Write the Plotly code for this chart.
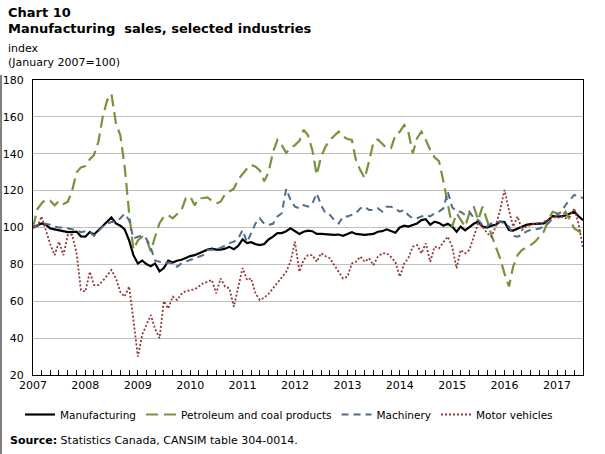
import pandas as pd
import plotly.graph_objects as go

# monthly index values, January 2007 to July 2017 (January 2007=100)
months = pd.date_range('2007-01-01', periods=127, freq='MS')

manufacturing = [
    100, 101, 102.2, 101.5, 99.5, 99, 98.5, 98, 97.5, 97.5, 97.8, 95.2,
    95, 97.5, 96.2, 98.5, 101, 103.5, 105.5, 102.2, 101, 99, 93, 85,
    80.5, 82, 80.2, 79, 80.5, 76.2, 78, 82, 81, 82, 82.5, 83.5,
    84.5, 85, 86, 87, 88, 88.5, 88, 88, 88.5, 89.5, 88.2, 90,
    93.5, 91.5, 92, 91, 90.5, 91, 93.5, 95, 97, 97, 98, 99.5,
    98, 96.5, 97.7, 98.3, 98, 96.5, 96.5, 96.3, 96.5, 96, 96.2, 95.5,
    96.5, 97.5, 96.5, 96.2, 96, 96.3, 96.5, 97.7, 98, 99, 98, 97.2,
    100, 101, 100.5, 101.5, 102.2, 104, 104.5, 101.5, 103.2, 102.5, 101, 102,
    100.5, 97.7, 100.5, 98.5, 100.3, 102, 103.2, 100.5, 100, 101, 101.5, 103.2,
    103, 98.7, 98.3, 99.3, 100.5, 101.4, 101.8, 102, 102.2, 102.2, 104, 106.2,
    106, 106, 106.5, 107.5, 108.6, 106, 104,
]
petroleum = [
    100, 110, 113, 115.3, 114.5, 112, 114.5, 112.8, 114, 120, 130, 132.6,
    133.3, 137, 139.3, 146.5, 160, 169, 172.4, 156.5, 150, 133, 108, 88,
    93, 95, 94, 87, 95, 102.3, 105.9, 106.8, 105, 107, 109.5, 115.8,
    116.8, 112, 115.8, 116, 116.3, 114.5, 113, 114, 118, 119.5, 121, 126,
    129, 132, 134, 133, 131, 125, 130, 141, 147.5, 144.7, 140.5, 143,
    144.7, 147, 153, 150, 142, 128.5, 138.4, 143.8, 147.5, 150, 152, 149.3,
    148, 147.5, 136.6, 131, 126.7, 136, 146, 147.8, 145.6, 143, 143, 150,
    152, 155.6, 152, 140.2, 148.4, 152, 147.5, 142, 138, 136, 125, 112,
    100.5, 107.7, 104, 100.5, 107.7, 111.3, 104, 111.3, 104, 96, 89.6, 83.3,
    75, 68, 78.8, 85, 87.8, 89, 90.5, 92.3, 95, 97.8, 104, 108.5,
    107.7, 106, 108.6, 104, 99.5, 98, 97,
]
machinery = [
    100, 101, 102.5, 102, 101.5, 100.5, 100, 100, 99.5, 99, 98.5, 97.5,
    98, 97.5, 95.5, 98, 100.5, 102, 103, 103, 105, 107.5, 104, 94,
    95, 95.5, 94, 89, 82, 81.5, 80.2, 81, 80.5, 78.7, 80.5, 81.5,
    82.4, 83, 84.2, 85, 87.8, 88, 88, 89, 90.5, 91.5, 92.3, 94,
    98.6, 92, 96.8, 102.2, 105, 102, 101.4, 102, 106, 107.7, 121, 115,
    111.3, 110.4, 112.2, 111.3, 113, 118.5, 112.2, 107.7, 106.8, 104, 102.2, 106,
    106, 106.8, 107.7, 110.4, 111.3, 109.5, 109.5, 110.4, 108.6, 111.3, 111.3, 110,
    108.6, 109.5, 106.8, 105, 105, 106, 106.8, 106, 107.7, 108.6, 110.4, 119.5,
    111, 108.6, 108.6, 106.8, 108.6, 105, 104, 101.4, 100.5, 102.2, 102.5, 103.2,
    102.2, 100.5, 95.5, 95, 96, 97.8, 98.7, 99, 99.5, 100.5, 102.2, 105,
    106.8, 108.6, 112.2, 115, 117.7, 116.8, 116,
]
motor_vehicles = [
    100, 100.5, 106, 97.8, 91, 85, 92.3, 85, 96, 96, 86, 66,
    65.2, 76, 68.8, 68.8, 71, 74, 77, 72.4, 65, 62.5, 68, 50,
    30, 42, 47, 52.5, 45, 40, 60, 56, 62.5, 60.7, 64, 65.5,
    66, 66.5, 68, 69.7, 70.5, 71.5, 64.3, 72.4, 67.9, 67, 57, 68,
    78, 71.5, 72.4, 64.3, 60.7, 62, 64, 67, 70, 72.4, 76, 81.4,
    92.3, 76, 82.4, 85, 85, 81.4, 86, 84.5, 83.3, 79.6, 76, 72.4,
    73.3, 80.5, 81.4, 84.2, 81.4, 83.3, 79.6, 84.2, 86, 86, 84, 81.4,
    73.3, 80.5, 83.3, 89.6, 90.5, 86, 91.4, 81.4, 89.6, 88.7, 92, 95,
    89.6, 77.8, 87.8, 86, 87.8, 95, 102.2, 100.5, 97, 95, 100.5, 109.5,
    120.3, 109.5, 100.5, 106, 98.7, 100.5, 101.4, 102.2, 102.2, 103.2, 104, 106,
    105, 106, 105, 106, 110.4, 101.4, 88.7,
]

W, H = 605, 454
L, R, T, B = 32.5, 583, 80, 375


def px_x(px):
    return (px - L) / (R - L)


def px_y(py):
    return (B - py) / (B - T)


font = 'DejaVu Sans, Verdana, sans-serif'

fig = go.Figure()
fig.add_trace(go.Scatter(x=months, y=manufacturing, mode='lines', name='Manufacturing',
                         line=dict(color='black', width=2.2)))
fig.add_trace(go.Scatter(x=months, y=petroleum, mode='lines', name='Petroleum and coal products',
                         line=dict(color='#77933c', width=2.2, dash='12px,6px')))
fig.add_trace(go.Scatter(x=months, y=machinery, mode='lines', name='Machinery',
                         line=dict(color='#4f6b8d', width=2, dash='7px,5px')))
fig.add_trace(go.Scatter(x=months, y=motor_vehicles, mode='lines', name='Motor vehicles',
                         line=dict(color='#953735', width=1.8, dash='2px,2px')))

fig.update_layout(
    width=W, height=H,
    margin=dict(l=L, r=W - R, t=T, b=H - B, autoexpand=False),
    plot_bgcolor='white', paper_bgcolor='white',
    font=dict(family=font, size=11, color='black'),
    showlegend=True,
    legend=dict(orientation='h', xref='container', yref='container',
                x=20 / W, y=1 - 400 / H, xanchor='left', yanchor='top',
                font=dict(size=10.5), itemwidth=30, tracegroupgap=0),
    xaxis=dict(type='date', range=['2007-01-01', '2017-07-01'],
               tick0='2007-01-01', dtick='M12', tickformat='%Y',
               ticks='inside', ticklen=5, tickcolor='black',
               minor=dict(dtick='M2', ticks='inside', ticklen=5, tickcolor='black'),
               showgrid=False, showline=True, linecolor='black', linewidth=1, mirror=True,
               tickfont=dict(size=11)),
    yaxis=dict(range=[20, 180], dtick=20, showgrid=True, gridcolor='#c0c0c0', gridwidth=1,
               showline=True, linecolor='black', linewidth=1, mirror=True,
               ticks='', ticklabelstandoff=6, tickfont=dict(size=11), zeroline=False),
)

fig.add_annotation(text='<b>Chart 10</b>', x=px_x(5), y=px_y(3), xref='paper', yref='paper',
                   xanchor='left', yanchor='top', showarrow=False, font=dict(size=13))
fig.add_annotation(text='<b>Manufacturing&nbsp; sales, selected industries</b>', x=px_x(5), y=px_y(19),
                   xref='paper', yref='paper', xanchor='left', yanchor='top', showarrow=False,
                   font=dict(size=13))
fig.add_annotation(text='index<br>(January 2007=100)', x=px_x(5), y=px_y(40), xref='paper', yref='paper',
                   xanchor='left', yanchor='top', showarrow=False, align='left', font=dict(size=11))
fig.add_annotation(text='<b>Source:</b> Statistics Canada, CANSIM table 304-0014.', x=px_x(7), y=px_y(432),
                   xref='paper', yref='paper', xanchor='left', yanchor='top', showarrow=False,
                   font=dict(size=11))
# left edge border of the figure
fig.add_shape(type='line', xref='paper', yref='paper', x0=px_x(0.5), x1=px_x(0.5), y0=px_y(75), y1=px_y(454),
              line=dict(color='black', width=1))

fig.write_html('out.html', config={'displayModeBar': False},
               post_script="document.body.style.margin='0';")
